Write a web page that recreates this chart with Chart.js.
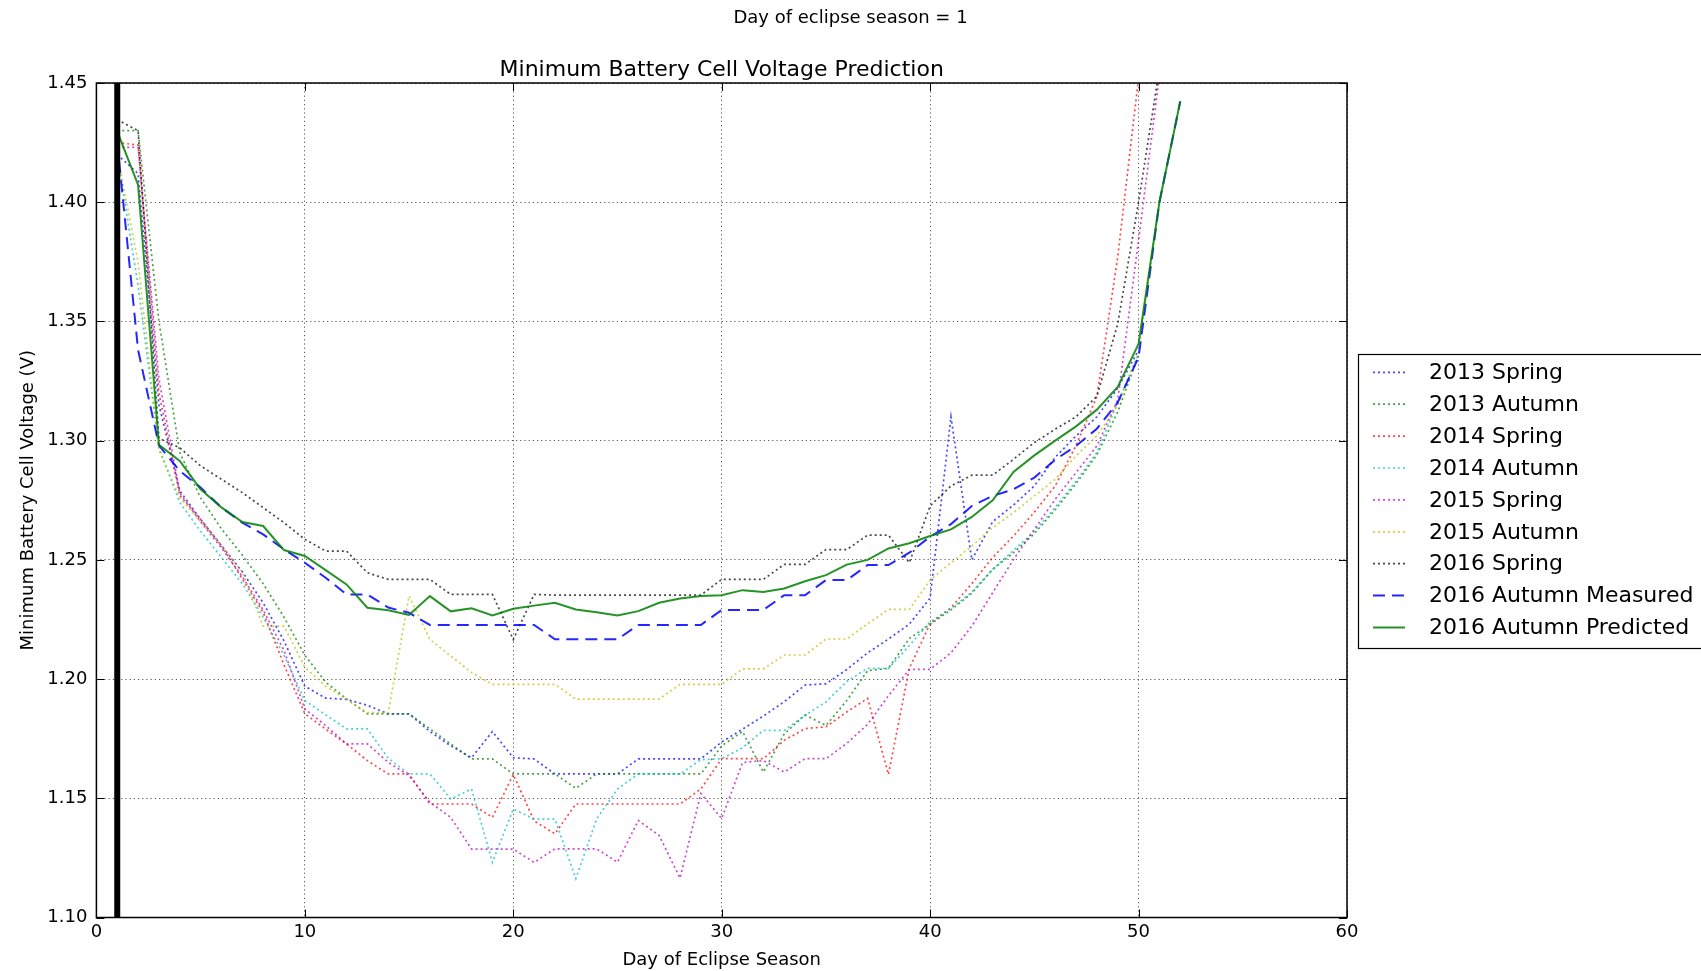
<!DOCTYPE html>
<html>
<head>
<meta charset="utf-8">
<title>Minimum Battery Cell Voltage Prediction</title>
<script src="https://cdn.jsdelivr.net/npm/chart.js@4.4.1/dist/chart.umd.min.js"></script>
<style>
  html, body { margin: 0; padding: 0; background: #fff; }
  canvas { display: block; }
</style>
</head>
<body>
<canvas id="voltageChart" width="1701" height="971"></canvas>
<script>
// valores (dia da estacao de eclipse -> tensao minima)
const days = [1, 2, 3, 4, 5, 6, 7, 8, 9, 10, 11, 12, 13, 14, 15, 16, 17, 18, 19, 20, 21, 22, 23, 24, 25, 26,
  27, 28, 29, 30, 31, 32, 33, 34, 35, 36, 37, 38, 39, 40, 41, 42, 43, 44, 45, 46, 47, 48, 49, 50, 51, 52];

const spring2013 = [1.420, 1.412, 1.315, 1.279, 1.267, 1.256, 1.245, 1.232, 1.216, 1.197, 1.192, 1.1915, 1.189,
  1.1854, 1.1854, 1.178, 1.172, 1.167, 1.178, 1.167, 1.1665, 1.1602, 1.1602, 1.1602, 1.1602, 1.1665,
  1.1665, 1.1665, 1.1665, 1.1736, 1.179, 1.1845, 1.1905, 1.1975, 1.198, 1.204, 1.211, 1.2168, 1.223, 1.234,
  1.310, 1.250, 1.266, 1.273, 1.281, 1.293, 1.302, 1.310, 1.322, 1.338, null, null];

const autumn2013 = [1.430, 1.430, 1.350, 1.295, 1.276, 1.263, 1.252, 1.240, 1.226, 1.210, 1.1987, 1.1917, 1.1854,
  1.1854, 1.1854, 1.1791, 1.1728, 1.1665, 1.1665, 1.1602, 1.1602, 1.1602, 1.1542, 1.1602, 1.1602, 1.1602,
  1.1602, 1.1602, 1.1602, 1.172, 1.178, 1.161, 1.177, 1.185, 1.1805, 1.191, 1.2035, 1.2045, 1.217, 1.223,
  1.229, 1.236, 1.246, 1.253, 1.261, 1.271, 1.282, 1.294, 1.312, 1.336, null, null];

const spring2014 = [1.425, 1.424, 1.320, 1.277, 1.267, 1.256, 1.242, 1.228, 1.206, 1.1855, 1.179, 1.1728, 1.1658,
  1.1602, 1.1602, 1.1476, 1.1476, 1.1476, 1.142, 1.160, 1.1405, 1.1351, 1.1476, 1.1476, 1.1476, 1.1476,
  1.1476, 1.1476, 1.1539, 1.1666, 1.1666, 1.1666, 1.1743, 1.1792, 1.180, 1.1862, 1.1919, 1.160, 1.2045, 1.2232,
  1.230, 1.240, 1.251, 1.260, 1.270, 1.281, 1.298, 1.3185, 1.377, 1.452, null, null];

const autumn2014 = [1.420, 1.365, 1.297, 1.274, 1.262, 1.251, 1.240, 1.226, 1.210, 1.191, 1.185, 1.1791, 1.1791,
  1.1668, 1.1602, 1.1602, 1.1497, 1.1539, 1.1231, 1.1455, 1.1413, 1.1413, 1.1163, 1.1413, 1.1539, 1.1602,
  1.1602, 1.1602, 1.1662, 1.1666, 1.1712, 1.1785, 1.1785, 1.1848, 1.1904, 1.199, 1.2045, 1.2045, 1.214, 1.224,
  1.2295, 1.2365, 1.246, 1.254, 1.262, 1.272, 1.283, 1.295, 1.316, 1.336, null, null];

const spring2015 = [1.423, 1.423, 1.326, 1.278, 1.266, 1.255, 1.243, 1.229, 1.212, 1.1875, 1.1805, 1.1728, 1.1728,
  1.1651, 1.1595, 1.1483, 1.142, 1.1287, 1.1287, 1.1287, 1.1231, 1.1288, 1.1288, 1.1288, 1.1232, 1.1407,
  1.1344, 1.1165, 1.152, 1.1415, 1.165, 1.1658, 1.161, 1.1666, 1.1666, 1.173, 1.181, 1.193, 1.204, 1.2041,
  1.211, 1.2222, 1.2362, 1.2502, 1.2628, 1.2754, 1.2866, 1.2978, 1.317, 1.384, 1.453, null];

const autumn2015 = [1.420, 1.375, 1.296, 1.276, 1.266, 1.256, 1.245, 1.2222, 1.2222, 1.205, 1.197, 1.1915, 1.1859,
  1.1859, 1.2348, 1.2166, 1.2097, 1.2027, 1.1978, 1.1978, 1.1978, 1.1978, 1.1916, 1.1916, 1.1916, 1.1916,
  1.1916, 1.1978, 1.1978, 1.1978, 1.2043, 1.2043, 1.2101, 1.2101, 1.2168, 1.2168, 1.2232, 1.2292, 1.2292, 1.2415,
  1.2488, 1.2558, 1.2635, 1.2698, 1.2768, 1.2838, 1.2936, 1.302, 1.3148, 1.337, 1.400, null];

const spring2016 = [1.4346, 1.430, 1.301, 1.297, 1.2894, 1.2838, 1.2782, 1.2719, 1.2656, 1.2586, 1.2537, 1.2537,
  1.2446, 1.2418, 1.2418, 1.2418, 1.2355, 1.2355, 1.2355, 1.2166, 1.2355, 1.2352, 1.2352, 1.2352, 1.2352,
  1.2352, 1.2352, 1.2352, 1.2352, 1.2418, 1.2418, 1.2418, 1.2481, 1.2481, 1.2543, 1.2543, 1.2604, 1.2604,
  1.2488, 1.2726, 1.281, 1.2855, 1.2855, 1.2922, 1.2992, 1.3048, 1.310, 1.3186, 1.349, 1.400, 1.456, null];

const autumn2016Measured = [1.425, 1.338, 1.298, 1.2873, 1.2803, 1.272, 1.2656, 1.2607, 1.2544, 1.2488, 1.2425,
  1.2355, 1.2355, 1.230, 1.2278, 1.2227, 1.2227, 1.2227, 1.2227, 1.2227, 1.2227, 1.2167, 1.2167, 1.2167, 1.2167,
  1.2227, 1.2227, 1.2227, 1.2227, 1.229, 1.229, 1.229, 1.2352, 1.2352, 1.2415, 1.2415, 1.2478, 1.2478, 1.253,
  1.2597, 1.265, 1.2726, 1.2768, 1.2796, 1.2845, 1.292, 1.2978, 1.305, 1.316, 1.335, 1.400, 1.4423];

const autumn2016Predicted = [1.4297, 1.4073, 1.2983, 1.2915, 1.2796, 1.272, 1.2659, 1.2642, 1.2541, 1.2516, 1.2457,
  1.2397, 1.2299, 1.2289, 1.2269, 1.2348, 1.2284, 1.2297, 1.2267, 1.2295, 1.2308, 1.232, 1.2292, 1.228, 1.2267,
  1.2285, 1.232, 1.2338, 1.2348, 1.2352, 1.2373, 1.2365, 1.238, 1.241, 1.2436, 1.248, 1.250, 1.2548, 1.257,
  1.260, 1.2628, 1.268, 1.275, 1.2869, 1.2938, 1.300, 1.306, 1.313, 1.3225, 1.3406, 1.400, 1.4423];

const currentDay = 1;
const xTicks = [0, 10, 20, 30, 40, 50, 60];
const yTicks = [1.10, 1.15, 1.20, 1.25, 1.30, 1.35, 1.40, 1.45];

const FONT = "'DejaVu Sans', 'Liberation Sans', sans-serif";
const DOTTED = [2, 3];

function toPoints(values) {
  const pts = [];
  values.forEach((v, i) => {
    if (v !== null) pts.push({ x: days[i], y: v });
  });
  return pts;
}

const series = [
  { label: "2013 Spring", values: spring2013, color: "rgba(0,0,255,0.72)", width: 1.7, dash: DOTTED },
  { label: "2013 Autumn", values: autumn2013, color: "rgba(0,128,0,0.72)", width: 1.7, dash: DOTTED },
  { label: "2014 Spring", values: spring2014, color: "rgba(255,0,0,0.72)", width: 1.7, dash: DOTTED },
  { label: "2014 Autumn", values: autumn2014, color: "rgba(0,191,191,0.72)", width: 1.7, dash: DOTTED },
  { label: "2015 Spring", values: spring2015, color: "rgba(191,0,191,0.72)", width: 1.7, dash: DOTTED },
  { label: "2015 Autumn", values: autumn2015, color: "rgba(191,191,0,0.72)", width: 1.7, dash: DOTTED },
  { label: "2016 Spring", values: spring2016, color: "rgba(0,0,0,0.72)", width: 1.7, dash: DOTTED },
  { label: "2016 Autumn Measured", values: autumn2016Measured, color: "rgba(0,0,255,0.85)", width: 2, dash: [12, 7] },
  { label: "2016 Autumn Predicted", values: autumn2016Predicted, color: "rgba(0,128,0,0.85)", width: 2, dash: [] }
];

const datasets = series.map((s, i) => ({
  label: s.label,
  data: toPoints(s.values),
  borderColor: s.color,
  borderWidth: s.width,
  borderDash: s.dash,
  pointRadius: 0,
  fill: false,
  tension: 0,
  order: 20 - i
}));

// linha vertical do dia atual
datasets.push({
  label: "current day",
  data: [{ x: currentDay, y: yTicks[0] }, { x: currentDay, y: yTicks[yTicks.length - 1] }],
  borderColor: "#000",
  borderWidth: 6,
  pointRadius: 0,
  order: 0
});

// textos, moldura, ticks internos e legenda no estilo matplotlib
const figurePlugin = {
  id: "figureDecor",
  afterDraw(chart) {
    const { ctx, chartArea: a, scales } = chart;
    ctx.save();

    ctx.fillStyle = "#000";
    ctx.textAlign = "center";
    ctx.textBaseline = "alphabetic";
    ctx.font = "18px " + FONT;
    ctx.fillText("Day of eclipse season = " + currentDay, chart.width / 2, 23);
    ctx.font = "22px " + FONT;
    ctx.fillText("Minimum Battery Cell Voltage Prediction", (a.left + a.right) / 2, 76);

    // ticks para dentro nos quatro lados
    ctx.strokeStyle = "#000";
    ctx.lineWidth = 1;
    const tl = 8;
    ctx.beginPath();
    xTicks.forEach(t => {
      const px = Math.round(scales.x.getPixelForValue(t)) + 0.5;
      ctx.moveTo(px, a.bottom); ctx.lineTo(px, a.bottom - tl);
      ctx.moveTo(px, a.top); ctx.lineTo(px, a.top + tl);
    });
    yTicks.forEach(t => {
      const py = Math.round(scales.y.getPixelForValue(t)) + 0.5;
      ctx.moveTo(a.left, py); ctx.lineTo(a.left + tl, py);
      ctx.moveTo(a.right, py); ctx.lineTo(a.right - tl, py);
    });
    ctx.stroke();

    ctx.lineWidth = 1.5;
    ctx.strokeRect(a.left, a.top, a.right - a.left, a.bottom - a.top);

    // legenda fora do eixo, cortada na borda direita
    const box = { x: 1358.5, y: 354.5, w: 400, h: 294 };
    ctx.lineWidth = 1.2;
    ctx.strokeStyle = "#000";
    ctx.fillStyle = "#fff";
    ctx.fillRect(box.x, box.y, box.w, box.h);
    ctx.strokeRect(box.x, box.y, box.w, box.h);
    ctx.font = "22px " + FONT;
    ctx.textAlign = "left";
    ctx.textBaseline = "middle";
    series.forEach((s, i) => {
      const y = 372.3 + i * 31.9;
      ctx.save();
      ctx.strokeStyle = s.color;
      ctx.lineWidth = s.width;
      ctx.setLineDash(s.dash);
      ctx.beginPath();
      ctx.moveTo(1373, y);
      ctx.lineTo(1405, y);
      ctx.stroke();
      ctx.restore();
      ctx.fillStyle = "#000";
      ctx.fillText(s.label, 1429, y + 1);
    });

    ctx.restore();
  }
};

const gridStyle = {
  color: "rgba(0,0,0,0.65)",
  lineWidth: 1,
  drawTicks: false
};

new Chart(document.getElementById("voltageChart").getContext("2d"), {
  type: "line",
  data: { datasets },
  options: {
    responsive: false,
    animation: false,
    devicePixelRatio: 1,
    layout: { padding: { top: 83, right: 354, left: 0, bottom: 0 } },
    plugins: {
      legend: { display: false },
      tooltip: { enabled: false },
      title: { display: false }
    },
    scales: {
      x: {
        type: "linear",
        min: xTicks[0],
        max: xTicks[xTicks.length - 1],
        afterBuildTicks: scale => { scale.ticks = xTicks.map(v => ({ value: v })); },
        afterFit: scale => { scale.height = 53.5; },
        grid: gridStyle,
        border: { display: false, dash: [1.2, 3] },
        ticks: { color: "#000", font: { family: FONT, size: 18 }, padding: 4, maxRotation: 0 },
        title: { display: true, text: "Day of Eclipse Season", color: "#000", font: { family: FONT, size: 18 }, padding: 0 }
      },
      y: {
        type: "linear",
        min: yTicks[0],
        max: yTicks[yTicks.length - 1],
        afterBuildTicks: scale => { scale.ticks = yTicks.map(v => ({ value: v })); },
        afterFit: scale => { scale.width = 96.4; },
        grid: gridStyle,
        border: { display: false, dash: [1.2, 3] },
        ticks: {
          color: "#000",
          font: { family: FONT, size: 18 },
          padding: 9,
          callback: v => v.toFixed(2)
        },
        title: { display: true, text: "Minimum Battery Cell Voltage (V)", color: "#000", font: { family: FONT, size: 18 }, padding: { top: 18 } }
      }
    }
  },
  plugins: [figurePlugin]
});
</script>
</body>
</html>
